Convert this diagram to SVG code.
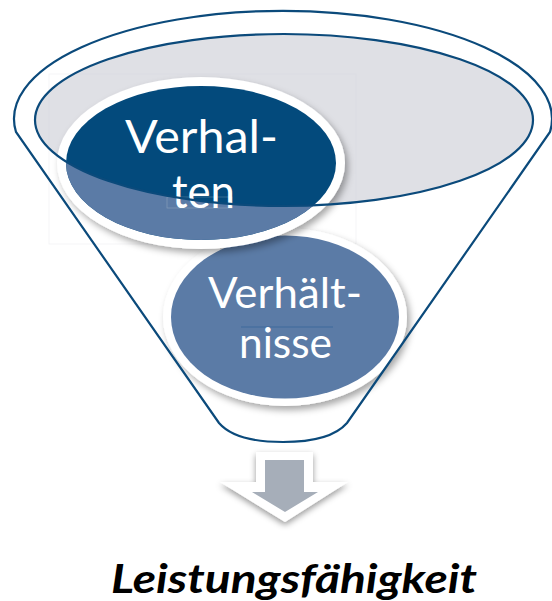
<svg xmlns="http://www.w3.org/2000/svg" width="552" height="601" viewBox="0 0 552 601">
  <style>
    .outline { fill: none; stroke: #0b4a7b; stroke-width: 2.2; }
    .ring { fill: #ffffff; }
    .dark { fill: #034a7c; }
    .light { fill: #5b7ba6; }
    .nodetext { fill: #ffffff; font-family: Lato, "Open Sans", sans-serif; }
    .ghost { fill: none; stroke: #d4d8de; stroke-width: 0.7; opacity: 0.35; }
    .result { fill: #000000; font-family: Lato, "Open Sans", sans-serif; font-weight: bold; font-style: italic; font-size: 40px; }
  </style>
  <defs>
    <filter id="softShadow" x="-20%" y="-20%" width="140%" height="150%">
      <feGaussianBlur in="SourceAlpha" stdDeviation="3.5"/>
      <feOffset dx="3" dy="4" result="blur"/>
      <feFlood flood-color="#000000" flood-opacity="0.35"/>
      <feComposite in2="blur" operator="in"/>
      <feMerge>
        <feMergeNode/>
        <feMergeNode in="SourceGraphic"/>
      </feMerge>
    </filter>
    <filter id="arrowShadow" x="-30%" y="-30%" width="160%" height="170%">
      <feGaussianBlur in="SourceAlpha" stdDeviation="3"/>
      <feOffset dx="0" dy="3" result="blur"/>
      <feFlood flood-color="#000000" flood-opacity="0.4"/>
      <feComposite in2="blur" operator="in"/>
      <feMerge>
        <feMergeNode/>
        <feMergeNode in="SourceGraphic"/>
      </feMerge>
    </filter>
    <!-- everything outside the funnel's top opening -->
    <clipPath id="outsideOpening">
      <path clip-rule="evenodd" d="M0,0 H552 V601 H0 Z M35,120 A249,86 0 1 0 533,120 A249,86 0 1 0 35,120 Z"/>
    </clipPath>
  </defs>

  <!-- funnel opening (grey fill) -->
  <g id="funnel-back">
    <ellipse cx="284" cy="120" rx="249" ry="86" fill="#dfe0e5"/>
    <rect class="ghost" x="49" y="74" width="307" height="170"/>
  </g>

  <!-- lower node -->
  <g id="node-verhaeltnisse">
    <ellipse class="ring" cx="285" cy="317" rx="122" ry="89" filter="url(#softShadow)"/>
    <ellipse class="light" cx="285" cy="317" rx="114" ry="81.5"/>
    <line x1="241" y1="327" x2="333" y2="327" stroke="#3e6a9c" stroke-width="1"/>
    <text class="nodetext" x="208" y="308" font-size="42" textLength="154" lengthAdjust="spacingAndGlyphs">Verhält-</text>
    <text class="nodetext" x="239" y="358" font-size="42" textLength="93" lengthAdjust="spacingAndGlyphs">nisse</text>
  </g>

  <!-- upper node -->
  <g id="node-verhalten">
    <ellipse class="ring" cx="201" cy="163" rx="144" ry="86" filter="url(#softShadow)"/>
    <ellipse class="dark" cx="201" cy="163" rx="135" ry="77"/>
    <ellipse class="light" cx="201" cy="163" rx="135" ry="77" clip-path="url(#outsideOpening)"/>
    <rect class="ghost" x="167" y="197" width="65" height="11"/>
    <text class="nodetext" x="125" y="153" font-size="46" textLength="153" lengthAdjust="spacingAndGlyphs">Verhal-</text>
    <text class="nodetext" x="172" y="208" font-size="46" textLength="63" lengthAdjust="spacingAndGlyphs">ten</text>
  </g>

  <!-- funnel outline drawn over the nodes -->
  <g id="funnel-front">
    <path class="outline" d="M16,132 A269,108 0 1 1 550,132 L347,423 C334,438 308,442 283,442 C258,442 232,438 219,423 Z"/>
    <ellipse class="outline" cx="284" cy="120" rx="249" ry="86"/>
  </g>

  <g id="connectors">
    <path d="M256,452 H313 V482 H348 L285,522 L220,482 H256 Z" fill="#ffffff" filter="url(#arrowShadow)"/>
    <path d="M265,460 H304 V492 H318 L285,512 L252,492 H265 Z" fill="#a6aeb9"/>
  </g>

  <g id="node-result">
    <text class="result" x="111" y="593" textLength="366" lengthAdjust="spacingAndGlyphs">Leistungsfähigkeit</text>
  </g>
</svg>
